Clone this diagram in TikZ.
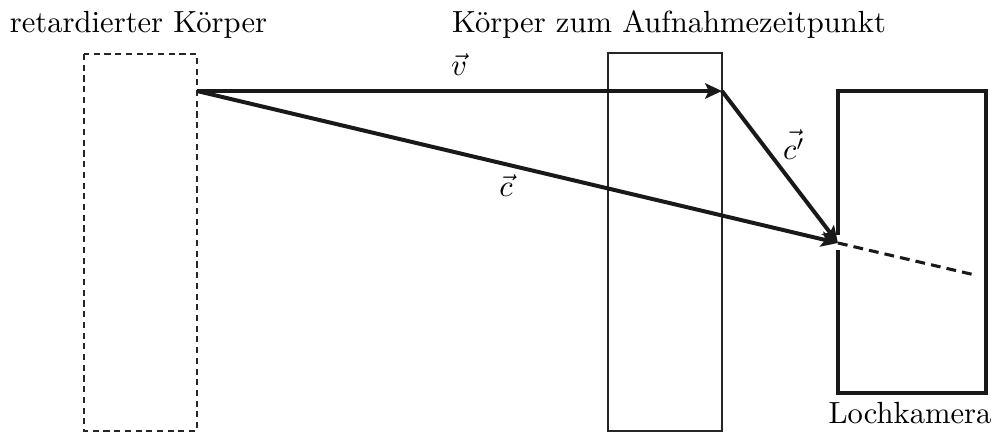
\documentclass[tikz,border=0pt]{standalone}
\usetikzlibrary{arrows.meta}
\begin{document}
\begin{tikzpicture}[x=0.3267pt,y=-0.3267pt,
  thinbox/.style={draw=black!85,line width=0.4pt},
  dashbox/.style={draw=black!85,line width=0.4pt,dash pattern=on 2pt off 1.5pt},
  cambox/.style={draw=black!90,line width=1pt},
  vecarrow/.style={draw=black!90,line width=1.3pt,-{Stealth[length=5.5pt,width=5pt,inset=1.2pt]}},
  ray/.style={draw=black!90,line width=1pt,dash pattern=on 3.2pt off 2pt},
  lbl/.style={anchor=base,inner sep=0pt}]
\useasboundingbox (0,0) rectangle (993,432);
% bodies
\draw[dashbox] (84,54) rectangle (197,431);
\draw[thinbox] (608,53) rectangle (722,431);
% camera with pinhole
\draw[cambox] (838,235) -- (838,91) -- (986,91) -- (986,393) -- (838,393) -- (838,250);
% coordinates
\coordinate (A) at (197,91);
\coordinate (B) at (722,91);
\coordinate (P) at (838,243);
\coordinate (E) at (975,275);
% vectors
\draw[vecarrow] (A) -- (B);
\draw[vecarrow] (A) -- (P);
\draw[vecarrow] (B) -- (P);
\draw[ray] (P) -- (E);
% labels
\node[lbl] (lv) at (459,75) {$\vec{v}$};
\node[lbl] (lc) at (506,197) {$\vec{c}$};
\node[lbl] (lcp) at (794,159) {$\vec{c'}$};
\node[lbl] (t1) at (138.5,32) {retardierter Körper};
\node[lbl] (t2) at (669,32) {Körper zum Aufnahmezeitpunkt};
\node[lbl] (t3) at (910,423) {Lochkamera};
\end{tikzpicture}
\end{document}
